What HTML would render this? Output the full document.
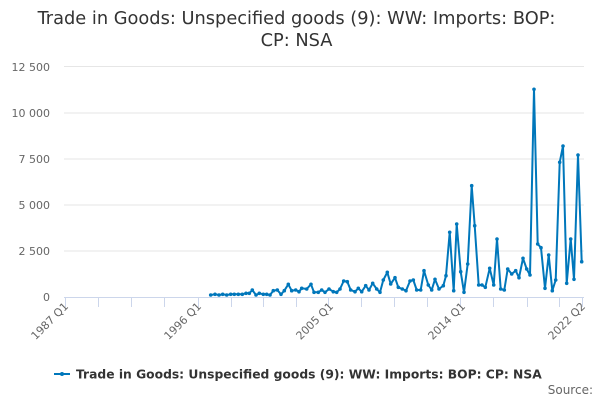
<!DOCTYPE html>
<html><head><meta charset="utf-8"><style>
body{margin:0;background:#fff;font-family:"DejaVu Sans","Liberation Sans",sans-serif;}
svg{display:block}
</style></head><body>
<svg id="s" width="600" height="400" xmlns="http://www.w3.org/2000/svg" font-family="DejaVu Sans, Liberation Sans, sans-serif">
<text x="296.5" y="24" text-anchor="middle" font-size="17.8" fill="#333">Trade in Goods: Unspecified goods (9): WW: Imports: BOP:</text>
<text x="296.5" y="46" text-anchor="middle" font-size="17.8" fill="#333">CP: NSA</text>
<g stroke="#e6e6e6" stroke-width="1">
<line x1="64" x2="584" y1="66.5" y2="66.5"/>
<line x1="64" x2="584" y1="113" y2="113"/>
<line x1="64" x2="584" y1="159" y2="159"/>
<line x1="64" x2="584" y1="205" y2="205"/>
<line x1="64" x2="584" y1="251" y2="251"/>
</g>
<line x1="64" x2="584" y1="297.5" y2="297.5" stroke="#ccd6eb"/>
<g id="ticks" stroke="#ccd6eb"></g>
<g font-size="11" fill="#666" text-anchor="end">
<text x="50" y="71">12 500</text>
<text x="50" y="117">10 000</text>
<text x="50" y="163">7 500</text>
<text x="50" y="209">5 000</text>
<text x="50" y="255">2 500</text>
<text x="50" y="301">0</text>
</g>
<g font-size="11" fill="#666" text-anchor="end">
<text transform="translate(69,307) rotate(-45)">1987 Q1</text>
<text transform="translate(202,307) rotate(-45)">1996 Q1</text>
<text transform="translate(334,307) rotate(-45)">2005 Q1</text>
<text transform="translate(466,307) rotate(-45)">2014 Q1</text>
<text transform="translate(586,307) rotate(-45)">2022 Q2</text>
</g>
<polyline id="ln" fill="none" stroke="#0077bb" stroke-width="2" stroke-linejoin="round"/>
<g id="mk" fill="#0077bb"></g>
<line x1="54" x2="70" y1="374" y2="374" stroke="#0077bb" stroke-width="2"/>
<circle cx="62" cy="374" r="2" fill="#0077bb"/>
<text x="76" y="378.5" font-size="12.3" font-weight="bold" fill="#333">Trade in Goods: Unspecified goods (9): WW: Imports: BOP: CP: NSA</text>
<text x="593" y="394" font-size="12" fill="#666" text-anchor="end">Source:</text>
</svg>
<script>
var a=[[632,735],[645,733],[657,735],[668,733],[680,735],[692,733],[703,733],[715,733],[727,733],[738,730],[748,730],[757,720],[768,735],[778,730],[790,733],[800,733],[810,735],[820,722],[832,720],[843,733],[853,722],[865,703],[875,722],[887,720],[897,725]];
var b=[[5,715],[20,717],[33,703],[42,727],[55,727],[65,720],[75,727],[87,717],[100,725],[110,727],[120,717],[131,693],[142,695],[152,720],[165,725],[175,715],[185,725],[197,707],[207,720],[218,700],[230,717],[240,727],[250,690],[262,667],[272,702],[285,683],[295,712],[307,717],[318,722],[330,693],[340,690],[350,720],[362,720],[372,662],[385,705],[395,720],[405,688],[417,717],[430,707],[438,677],[449,547],[461,722],[470,522],[482,665],[492,727],[503,642],[515,407],[524,527],[536,705],[546,705],[556,712],[569,655],[581,705],[591,567],[602,717],[613,720],[623,657],[635,672],[647,662],[657,683],[669,625],[680,657],[690,675],[702,118],[713,582],[723,593],[735,715],[746,615],[757,722],[767,690],[779,337],[789,288],[800,700],[812,567],[822,688],[834,315],[845,635]];
var p=[];a.forEach(function(q){p.push([q[0]/3,50+q[1]/3])});b.forEach(function(q){p.push([300+q[0]/3,50+q[1]/3])});
document.getElementById('ln').setAttribute('points',p.map(function(q){return q[0].toFixed(1)+','+q[1].toFixed(1)}).join(' '));
var m='';p.forEach(function(q){m+='<circle cx="'+q[0].toFixed(1)+'" cy="'+q[1].toFixed(1)+'" r="1.8"/>'});
document.getElementById('mk').innerHTML=m;
var t='';[65,98,131,164,198,231,263,296,328,361,394,427,460,493,527,559,582].forEach(function(x){t+='<line x1="'+(x+.5)+'" x2="'+(x+.5)+'" y1="297" y2="307"/>'});
document.getElementById('ticks').innerHTML=t;
</script>
</body></html>
